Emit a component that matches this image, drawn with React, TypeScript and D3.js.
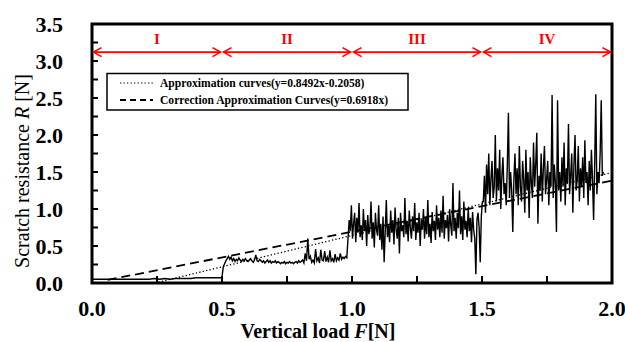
import React from "react";
import * as d3 from "d3";

// stage boundaries along the load axis and their labels
const stageBounds = [0, 0.5, 1.0, 1.5, 2.0];
const stageLabels = ["I", "II", "III", "IV"];

const xTicks = [0, 0.5, 1.0, 1.5, 2.0];
const yTicks = [0, 0.5, 1.0, 1.5, 2.0, 2.5, 3.0, 3.5];

// fitted lines: y = a*x + b
const approxFit = { a: 0.8492, b: -0.2058 };
const corrFit = { a: 0.6918, b: 0 };

const segIStart = 0, segIStep = 0.02;
const segI = [0.05, 0.05, 0.05, 0.05, 0.05, 0.05, 0.05, 0.05, 0.05, 0.05, 0.05, 0.05, 0.06,
  0.05, 0.06, 0.05, 0.06, 0.06, 0.06, 0.06, 0.07, 0.07, 0.07, 0.07, 0.07, 0.07];

const segIIStart = 0.5, segIIStep = 0.005;
const segII = [0.08, 0.22, 0.26, 0.30, 0.33, 0.36, 0.32, 0.35, 0.30, 0.33, 0.29, 0.32, 0.30, 0.34,
  0.31, 0.29, 0.32, 0.30, 0.33, 0.30, 0.29, 0.31, 0.33, 0.30, 0.28, 0.31, 0.38, 0.30, 0.29, 0.32,
  0.30, 0.28, 0.30, 0.27, 0.29, 0.31, 0.28, 0.30, 0.27, 0.29, 0.28, 0.30, 0.27, 0.29, 0.28, 0.26,
  0.28, 0.27, 0.29, 0.26, 0.28, 0.27, 0.29, 0.27, 0.28, 0.26, 0.28, 0.29, 0.27, 0.30, 0.28, 0.29,
  0.31, 0.27, 0.40, 0.30, 0.60, 0.32, 0.36, 0.28, 0.31, 0.27, 0.46, 0.30, 0.34, 0.27, 0.45, 0.31,
  0.30, 0.43, 0.29, 0.35, 0.28, 0.44, 0.30, 0.33, 0.28, 0.39, 0.30, 0.34, 0.31, 0.40, 0.32, 0.35,
  0.33, 0.36, 0.34];

const segIIIStart = 0.985, segIIIStep = 0.0042;
const segIII = [
  0.62, 0.85, 0.70, 1.05, 0.60, 0.80, 0.95, 0.55, 0.88, 0.68,
  1.08, 0.62, 0.78, 0.58, 1.00, 0.70, 0.85, 0.50, 0.92, 0.66,
  0.75, 1.10, 0.60, 0.82, 0.48, 0.95, 0.72, 0.64, 1.05, 0.58,
  0.80, 0.45, 0.90, 0.28, 0.70, 1.12, 0.62, 0.78, 0.55, 0.98,
  0.68, 0.85, 0.52, 1.02, 0.72, 0.60, 0.88, 0.40, 0.95, 0.70,
  0.78, 0.62, 1.15, 0.66, 0.84, 0.56, 0.98, 0.74, 0.60, 0.90,
  0.70, 1.08, 0.58, 0.82, 0.68, 0.95, 0.50, 0.86, 0.72, 1.00,
  0.60, 0.88, 0.66, 1.12, 0.62, 0.80, 0.54, 0.96, 0.70, 0.84,
  0.58, 1.05, 0.72, 0.88, 0.62, 0.98, 0.68, 1.18, 0.60, 0.85,
  0.74, 0.92, 0.56, 1.00, 0.78, 0.64, 1.35, 0.70, 0.88, 0.60,
  0.95, 0.74, 1.25, 0.66, 0.90, 0.58, 1.10, 0.72, 0.84, 0.62,
  1.02, 0.70, 0.88, 0.55, 0.96, 0.72, 0.60, 0.12, 0.85, 0.95,
  0.75, 0.28, 0.90, 1.10];

const segIVStart = 1.505, segIVStep = 0.0042;
const segIV = [
  1.10, 1.45, 0.95, 1.60, 1.20, 1.75, 1.05, 1.40, 1.65, 1.15,
  1.30, 2.00, 1.10, 1.55, 1.25, 1.80, 1.00, 1.45, 1.70, 1.20,
  1.35, 1.05, 1.60, 2.30, 1.15, 1.50, 1.25, 0.69, 1.40, 1.75,
  1.20, 1.55, 1.05, 1.85, 1.30, 1.10, 1.65, 1.40, 0.95, 1.80,
  1.25, 1.50, 0.88, 1.70, 1.35, 1.15, 1.90, 1.30, 1.60, 2.03,
  0.80, 1.45, 1.25, 1.75, 1.10, 1.55, 1.85, 1.20, 1.40, 1.65,
  1.05, 1.50, 1.30, 2.54, 1.15, 1.60, 1.35, 0.69, 2.47, 1.25,
  1.50, 1.10, 1.70, 1.30, 1.90, 1.05, 1.55, 1.35, 2.15, 1.20,
  1.45, 1.75, 0.95, 1.60, 2.00, 1.25, 1.40, 1.85, 1.10, 1.55,
  1.30, 1.70, 1.15, 1.93, 1.35, 1.50, 1.05, 1.65, 1.25, 1.80,
  1.40, 0.85, 1.60, 2.55, 1.20, 1.50, 1.35, 1.75, 2.47, 1.45,
  1.50];

const W = 625, H = 342;
const L = 92, R = 612, T = 24, B = 283;
const serif = "Liberation Serif, Times New Roman, serif";

const toPts = (start: number, step: number, vals: number[]) =>
  vals.map((v, i) => [start + i * step, v] as [number, number]);

export default function App() {
  const x = d3.scaleLinear().domain([0, 2]).range([L, R]);
  const y = d3.scaleLinear().domain([0, 3.5]).range([B, T]);

  const data = [
    ...toPts(segIStart, segIStep, segI),
    ...toPts(segIIStart, segIIStep, segII),
    ...toPts(segIIIStart, segIIIStep, segIII),
    ...toPts(segIVStart, segIVStep, segIV),
  ];
  const line = d3.line<[number, number]>().x(d => x(d[0])).y(d => y(d[1]));

  const ax0 = -approxFit.b / approxFit.a;
  const approxPath = line([[ax0, 0], [2, approxFit.a * 2 + approxFit.b]]) || "";
  const corrPath = line([[0.06, corrFit.a * 0.06], [2, corrFit.a * 2]]) || "";

  const minorX = d3.range(0.25, 2, 0.25);
  const minorY = d3.range(0.25, 3.5, 0.25);
  const arrowY = y(3.12);
  const red = "#ff0000";

  return (
    <svg width={W} height={H}
      style={{ position: "absolute", left: 0, top: 0, background: "#fff", fontFamily: serif }}>
      <defs>
        <clipPath id="plot"><rect x={L} y={T} width={R - L} height={B - T} /></clipPath>
      </defs>

      {/* data */}
      <g clipPath="url(#plot)">
        <path d={line(data) || ""} fill="none" stroke="#000" strokeWidth={1.4} strokeLinejoin="miter" />
        <path d={approxPath} fill="none" stroke="#000" strokeWidth={1.3} strokeDasharray="1.3,2.2" />
        <path d={corrPath} fill="none" stroke="#000" strokeWidth={1.8} strokeDasharray="9,5" />
      </g>

      {/* ticks */}
      {minorX.map(t => (
        <line key={"xt" + t} x1={x(t)} x2={x(t)} y1={B} y2={B - 7} stroke="#000" strokeWidth={2} />
      ))}
      {minorY.map(t => (
        <line key={"yt" + t} x1={L} x2={L + 6} y1={y(t)} y2={y(t)} stroke="#000" strokeWidth={2} />
      ))}
      <rect x={L} y={T} width={R - L} height={B - T} fill="none" stroke="#000" strokeWidth={3} />

      {xTicks.map(t => (
        <text key={"xl" + t} x={x(t)} y={315.5} textAnchor="middle" fontSize={22} fontWeight="bold"
          style={{ fontFamily: serif }}>
          {d3.format(".1f")(t)}
        </text>
      ))}
      {yTicks.map(t => (
        <text key={"yl" + t} x={63} y={y(t) + 7.5} textAnchor="end" fontSize={22} fontWeight="bold"
          style={{ fontFamily: serif }}>
          {d3.format(".1f")(t)}
        </text>
      ))}

      {/* axis titles */}
      <text x={318} y={338} textAnchor="middle" fontSize={20} fontWeight="bold" style={{ fontFamily: serif }}>
        Vertical load <tspan fontStyle="italic">F</tspan>[N]
      </text>
      <text transform="translate(29,171) rotate(-90)" textAnchor="middle" fontSize={20}
        style={{ fontFamily: serif }}>
        Scratch resistance <tspan fontStyle="italic">R</tspan> [N]
      </text>

      {/* stage arrows */}
      {stageLabels.map((lab, i) => {
        const x0 = x(stageBounds[i]) + 1.5, x1 = x(stageBounds[i + 1]) - 1.5;
        return (
          <g key={lab} stroke={red} strokeWidth={1.6} fill="none">
            <line x1={x0} x2={x1} y1={arrowY} y2={arrowY} />
            <polyline points={`${x0 + 8},${arrowY - 4.5} ${x0},${arrowY} ${x0 + 8},${arrowY + 4.5}`} />
            <polyline points={`${x1 - 8},${arrowY - 4.5} ${x1},${arrowY} ${x1 - 8},${arrowY + 4.5}`} />
            <text x={(x0 + x1) / 2} y={44} textAnchor="middle" fontSize={15} fontWeight="bold"
              fill={red} stroke="none" style={{ fontFamily: serif }}>{lab}</text>
          </g>
        );
      })}

      {/* legend */}
      <rect x={107} y={73.5} width={301} height={36.5} fill="#fff" stroke="#000" strokeWidth={1.5} />
      <line x1={120} x2={153} y1={83} y2={83} stroke="#000" strokeWidth={1.2} strokeDasharray="1.3,2.2" />
      <line x1={120} x2={153} y1={100} y2={100} stroke="#000" strokeWidth={1.8} strokeDasharray="6,4" />
      <text x={160} y={87} fontSize={11.6} fontWeight="bold" style={{ fontFamily: serif }}>
        Approximation curves(y=0.8492x-0.2058)
      </text>
      <text x={160} y={104} fontSize={11.6} fontWeight="bold" style={{ fontFamily: serif }}>
        Correction Approximation Curves(y=0.6918x)
      </text>
    </svg>
  );
}
